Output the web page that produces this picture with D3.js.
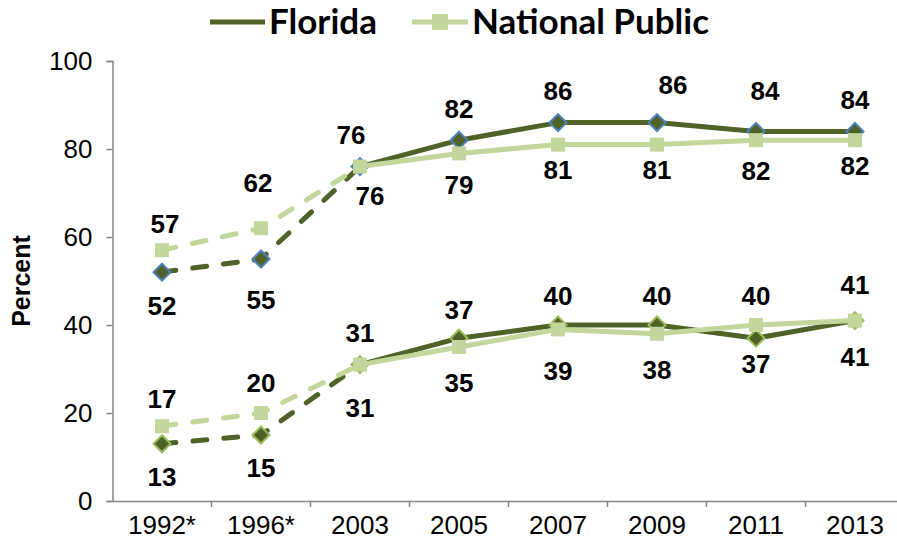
<!DOCTYPE html>
<html>
<head>
<meta charset="utf-8">
<script src="https://cdn.jsdelivr.net/npm/d3@7"></script>
<style>
  html, body { margin: 0; padding: 0; background: #fff; }
  svg { display: block; }
  svg text { font-family: "Liberation Sans", Arial, sans-serif; }
  svg text.legend-text { font-family: Lato, "Open Sans", sans-serif; }
</style>
</head>
<body>
<svg id="chart" width="897" height="548"></svg>
<script>
// Assessment years (asterisk marks the earlier administrations)
const years = ["1992*", "1996*", "2003", "2005", "2007", "2009", "2011", "2013"];

// Upper group of lines
const floridaUpper  = [52, 55, 76, 82, 86, 86, 84, 84];
const nationalUpper = [57, 62, 76, 79, 81, 81, 82, 82];

// Lower group of lines
const floridaLower  = [13, 15, 31, 37, 40, 40, 37, 41];
const nationalLower = [17, 20, 31, 35, 39, 38, 40, 41];

const yTicks = [0, 20, 40, 60, 80, 100];
const seriesNames = ["Florida", "National Public"];

// Hand placement tweaks for value labels, [dx, dy] in pixels
const floridaUpperNudge  = [[0,0],[0,8],[-9,0],[0,0],[0,0],[16,-6],[9,-9],[0,0]];
const nationalUpperNudge = [[3,5],[-3,-14],[10,-4],[0,-2],[0,-8],[0,-8],[0,-3],[0,-8]];
const floridaLowerNudge  = [[0,0],[0,0],[0,0],[0,3],[0,3],[0,3],[0,-8],[0,-4]];
const nationalLowerNudge = [[0,4],[0,2],[0,10],[0,3],[0,8],[0,3],[0,3],[0,3]];

// Number of leading points joined with a dashed line
const dashedThrough = 2;

const FL_COLOR = "#4f6228";
const NP_COLOR = "#c3d69b";

const svg = d3.select("#chart");

const x = d3.scaleBand().domain(years).range([112.5, 904.5]);
const y = d3.scaleLinear().domain([0, 100]).range([501, 61]);
const cx = d => x(d) + x.bandwidth() / 2;

// ---- axes ----
const axisColor = "#868686";
const yAxis = svg.append("g")
  .attr("transform", `translate(${x.range()[0]},0)`)
  .call(d3.axisLeft(y).tickValues(yTicks).tickSize(6).tickPadding(14));
yAxis.attr("font-family", null).attr("font-size", null);
yAxis.select(".domain").attr("stroke", axisColor).attr("stroke-width", 1.5);
yAxis.selectAll(".tick line").attr("stroke", axisColor).attr("stroke-width", 1.5);
yAxis.selectAll(".tick text").style("font-size", "26px").attr("fill", "#000");

const xAxis = svg.append("g")
  .attr("transform", `translate(0,${y(0)})`)
  .call(d3.axisBottom(x).tickSize(0).tickPadding(15).tickSizeOuter(0));
xAxis.attr("font-family", null).attr("font-size", null);
xAxis.select(".domain").attr("stroke", axisColor).attr("stroke-width", 1.5);
xAxis.selectAll(".tick text").style("font-size", "26px").attr("fill", "#000");
// category boundary ticks
xAxis.selectAll("line.bound")
  .data(years.slice(1))
  .join("line")
  .attr("class", "bound")
  .attr("x1", d => x(d)).attr("x2", d => x(d))
  .attr("y1", 0).attr("y2", 6)
  .attr("stroke", axisColor).attr("stroke-width", 1.5);

// y axis title
svg.append("text")
  .attr("transform", `translate(30,${y(50)}) rotate(-90)`)
  .attr("text-anchor", "middle")
  .style("font-weight", "bold").style("font-size", "25px")
  .text("Percent");

// ---- series ----
const line = d3.line().x(d => cx(d.year)).y(d => y(d.v));
const toPts = vals => vals.map((v, i) => ({ year: years[i], v }));

function drawLine(vals, color) {
  const pts = toPts(vals);
  svg.append("path")
    .attr("d", line(pts.slice(0, dashedThrough + 1)))
    .attr("fill", "none").attr("stroke", color).attr("stroke-width", 5)
    .attr("stroke-linecap", "round")
    .attr("stroke-dasharray", "14 17");
  svg.append("path")
    .attr("d", line(pts.slice(dashedThrough)))
    .attr("fill", "none").attr("stroke", color).attr("stroke-width", 5)
    .attr("stroke-linejoin", "round");
}

function drawDiamonds(vals, edge) {
  const h = 8.5;
  svg.append("g").selectAll("path")
    .data(toPts(vals))
    .join("path")
    .attr("d", `M0,${-h}L${h},0L0,${h}L${-h},0Z`)
    .attr("transform", d => `translate(${cx(d.year)},${y(d.v)})`)
    .attr("fill", FL_COLOR).attr("stroke", edge).attr("stroke-width", 2);
}

function drawSquares(vals) {
  const s = 14;
  svg.append("g").selectAll("rect")
    .data(toPts(vals))
    .join("rect")
    .attr("x", d => cx(d.year) - s / 2).attr("y", d => y(d.v) - s / 2)
    .attr("width", s).attr("height", s)
    .attr("fill", NP_COLOR);
}

// value labels: the higher value sits above its point, the other below
function drawLabels(fl, np, flNudge, npNudge) {
  const g = svg.append("g")
    .attr("text-anchor", "middle").attr("fill", "#000");
  years.forEach((yr, i) => {
    const flTop = fl[i] >= np[i];
    const items = [
      { v: fl[i], up: flTop, n: flNudge[i] },
      { v: np[i], up: !flTop, n: npNudge[i] }
    ];
    items.forEach(it => {
      g.append("text")
        .style("font-weight", "bold").style("font-size", "26px")
        .attr("x", cx(yr) + it.n[0])
        .attr("y", y(it.v) + (it.up ? -32 : 33) + it.n[1])
        .attr("dy", "0.36em")
        .text(it.v);
    });
  });
}

drawLine(floridaLower, FL_COLOR);
drawDiamonds(floridaLower, "#9bbb59");
drawLine(nationalLower, NP_COLOR);
drawSquares(nationalLower);

drawLine(floridaUpper, FL_COLOR);
drawDiamonds(floridaUpper, "#4f81bd");
drawLine(nationalUpper, NP_COLOR);
drawSquares(nationalUpper);

drawLabels(floridaUpper, nationalUpper, floridaUpperNudge, nationalUpperNudge);
drawLabels(floridaLower, nationalLower, floridaLowerNudge, nationalLowerNudge);

// ---- legend ----
const legend = svg.append("g").attr("fill", "#000");
legend.append("line").attr("x1", 210).attr("x2", 265).attr("y1", 22).attr("y2", 22)
  .attr("stroke", FL_COLOR).attr("stroke-width", 5);
legend.append("text").attr("class", "legend-text")
  .attr("x", 269).attr("y", 34)
  .style("font-weight", "bold").style("font-size", "35px").text(seriesNames[0]);
legend.append("line").attr("x1", 412).attr("x2", 468).attr("y1", 22).attr("y2", 22)
  .attr("stroke", NP_COLOR).attr("stroke-width", 5);
legend.append("rect").attr("x", 432).attr("y", 14).attr("width", 16).attr("height", 16)
  .attr("fill", NP_COLOR);
legend.append("text").attr("class", "legend-text")
  .attr("x", 472).attr("y", 34)
  .style("font-weight", "bold").style("font-size", "35px").text(seriesNames[1]);
</script>
</body>
</html>
